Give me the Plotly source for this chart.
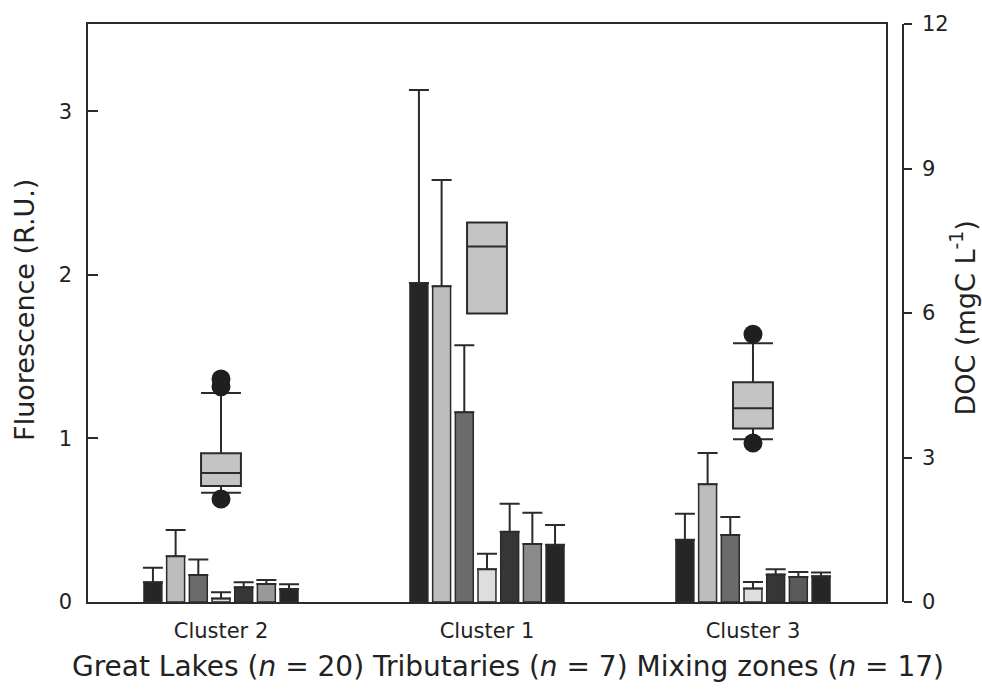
import plotly.graph_objects as go

# Cluster categories (x axis)
categories = ["Cluster 2", "Cluster 1", "Cluster 3"]

# Fluorescence component means (R.U.) and upper standard deviations, one list per component
comp1 = [0.12, 1.95, 0.38]
comp1_sd = [0.09, 1.18, 0.16]
comp2 = [0.28, 1.93, 0.72]
comp2_sd = [0.16, 0.65, 0.19]
comp3 = [0.165, 1.16, 0.41]
comp3_sd = [0.095, 0.41, 0.11]
comp4 = [0.022, 0.20, 0.083]
comp4_sd = [0.037, 0.095, 0.04]
comp5 = [0.09, 0.43, 0.168]
comp5_sd = [0.03, 0.17, 0.032]
comp6 = [0.11, 0.355, 0.153]
comp6_sd = [0.024, 0.19, 0.031]
comp7 = [0.08, 0.35, 0.158]
comp7_sd = [0.028, 0.12, 0.022]

# DOC box statistics (mgC/L) per cluster
doc_q1 = [2.41, 5.99, 3.60]
doc_median = [2.68, 7.38, 4.02]
doc_q3 = [3.09, 7.88, 4.56]
doc_low = [2.27, 5.99, 3.38]
doc_high = [4.34, 7.88, 5.37]

# DOC outliers
outlier_cluster = ["Cluster 2", "Cluster 2", "Cluster 2", "Cluster 3", "Cluster 3"]
outlier_doc = [2.14, 4.47, 4.63, 3.30, 5.56]

FONT = "DejaVu Sans"
INK = "#2b2b2b"

series = [
    (comp1, comp1_sd, "#262626"),
    (comp2, comp2_sd, "#bdbdbd"),
    (comp3, comp3_sd, "#6b6b6b"),
    (comp4, comp4_sd, "#dedede"),
    (comp5, comp5_sd, "#363636"),
    (comp6, comp6_sd, ["#999999", "#8a8a8a", "#5a5a5a"]),
    (comp7, comp7_sd, "#262626"),
]

fig = go.Figure()

for i, (vals, sd, color) in enumerate(series):
    fig.add_trace(go.Bar(
        x=categories, y=vals, name=f"C{i + 1}",
        marker=dict(color=color, line=dict(color=INK, width=1.5)),
        error_y=dict(type="data", symmetric=False, array=sd,
                     arrayminus=[0] * len(sd), color=INK,
                     thickness=2, width=10),
        showlegend=False,
    ))

fig.add_trace(go.Box(
    x=categories, q1=doc_q1, median=doc_median, q3=doc_q3,
    lowerfence=doc_low, upperfence=doc_high,
    yaxis="y2", width=0.15, whiskerwidth=1,
    fillcolor="#c4c4c4", line=dict(color=INK, width=2),
    boxpoints=False, showlegend=False,
))

fig.add_trace(go.Scatter(
    x=outlier_cluster, y=outlier_doc, yaxis="y2", mode="markers",
    marker=dict(color="#1f1f1f", size=19), showlegend=False,
))

x_end = 0.9568
fig.update_layout(
    width=982, height=692,
    margin=dict(l=88, r=60, t=19, b=90),
    paper_bgcolor="white", plot_bgcolor="white",
    barmode="group", bargap=0.403, bargroupgap=0.21,
    font=dict(family=FONT, color="#222222"),
    xaxis=dict(
        type="category", domain=[0, x_end], range=[-0.5, 2.5],
        showline=True, linecolor=INK, linewidth=1.5, mirror=True,
        ticks="", showgrid=False, zeroline=False,
        tickfont=dict(size=21, family=FONT), ticklabelstandoff=9,
    ),
    yaxis=dict(
        range=[0, 3.533], tickvals=[0, 1, 2, 3],
        ticks="inside", ticklen=10, tickwidth=1.5, tickcolor=INK,
        showline=True, linecolor=INK, linewidth=1.5, mirror=True,
        showgrid=False, zeroline=False,
        tickfont=dict(size=21, family=FONT), ticklabelstandoff=10,
    ),
    yaxis2=dict(
        overlaying="y", anchor="free", position=0.9772, side="right",
        range=[0, 12], tickvals=[0, 3, 6, 9, 12],
        ticks="outside", ticklen=8, tickwidth=1.5, tickcolor=INK,
        showline=True, linecolor=INK, linewidth=1.5,
        showgrid=False, zeroline=False,
        tickfont=dict(size=21, family=FONT), ticklabelstandoff=6,
    ),
    annotations=[
        dict(text="Fluorescence (R.U.)", textangle=-90,
             xref="paper", yref="paper", x=-0.077, y=0.505,
             xanchor="center", yanchor="middle", showarrow=False,
             font=dict(size=27, family=FONT)),
        dict(text="DOC (mgC L<sup>-1</sup>)", textangle=-90,
             xref="paper", yref="paper", x=1.049, y=0.492,
             xanchor="center", yanchor="middle", showarrow=False,
             font=dict(size=27, family=FONT)),
        dict(text="Great Lakes (<i>n</i> = 20) Tributaries (<i>n</i> = 7) "
                  "Mixing zones (<i>n</i> = 17)",
             xref="paper", yref="paper", x=0.504, y=-0.111,
             xanchor="center", yanchor="middle", showarrow=False,
             font=dict(size=28, family=FONT)),
    ],
)

fig.write_html("out.html")
